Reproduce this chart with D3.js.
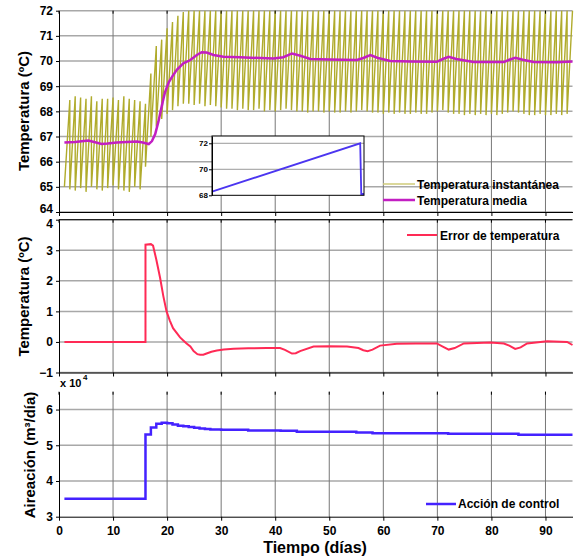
<!DOCTYPE html>
<html>
<head>
<meta charset="utf-8">
<script src="https://d3js.org/d3.v7.min.js"></script>
<style>
  body { margin: 0; background: #fff; }
  text { font-family: "Liberation Sans", Arial, sans-serif; font-weight: bold; }
</style>
</head>
<body>
<div id="chart"></div>
<script>
// ---- datos ----
// temperatura instantanea: valle al inicio de cada dia (dia 1..94) y pico al final (dia 2..95)
var tempValle = [65.0, 64.9, 64.85, 64.95, 64.8, 65.0, 64.9, 64.85, 64.95, 65.05, 64.9, 64.85, 64.8, 65.0, 64.9,
  65.8, 67.0, 67.4, 67.7, 67.9, 68.05, 68.2,
  68.3, 68.3, 68.25, 68.3, 68.2, 68.25, 68.2, 68.15,
  68.1, 68.1, 68.05, 68.1, 68.05, 68.05, 68.1, 68.0, 68.05, 68.0, 68.05, 68.1, 68.05, 68.0, 68.0,
  67.95, 68.0, 68.0, 67.95, 68.0, 67.95, 67.95, 68.0, 67.95, 68.0, 68.05, 68.0, 67.95, 67.95, 67.9,
  67.95, 67.9, 67.95, 67.9, 67.9, 67.95, 67.9, 67.9, 67.95, 68.0, 68.05, 67.95, 67.9, 67.9, 67.85,
  67.9, 67.85, 67.9, 67.85, 67.9, 67.85, 67.9, 67.95, 68.0, 67.95, 67.9, 67.85, 67.85, 67.9, 67.85, 67.85, 67.9, 67.85, 67.9];
var tempPico = [68.45, 68.6, 68.55, 68.5, 68.6, 68.4, 68.5, 68.5, 68.55, 68.45, 68.6, 68.5, 68.45, 68.4, 68.3,
  69.5, 70.6, 70.85, 71.3, 71.55, 71.8, 71.95,
  72, 72, 72, 72, 72, 72, 72, 72, 72, 72, 72, 72, 72, 72, 72, 72, 72, 72, 72, 72, 72, 72,
  72, 72, 72, 72, 72, 72, 72, 72, 72, 72, 72, 72, 72, 72, 72, 72, 72, 72, 72, 72, 72, 72,
  72, 72, 72, 72, 72, 72, 72, 72, 72, 72, 72, 72, 72, 72, 72, 72, 72, 72, 72, 72, 72, 72,
  72, 72, 72, 72, 72, 72, 72, 72, 72, 72, 72, 72, 72, 72, 72, 72];

// temperatura media
var mediaDias = [1, 3, 5.4, 6.5, 7.9, 9, 10.7, 12.5, 14.4, 15.5, 16.6, 17.2, 17.8, 18.4, 19.0, 19.6, 20.3, 21.0, 21.8, 23.0, 24.3, 25.5, 26.4, 27.3, 28.6, 30.4, 33.5, 35.4,
  39.7, 41.5, 43.1, 44.5, 46.5, 50, 55.1, 56.3, 57.6, 59, 61.3, 65, 69.9, 71, 72.1, 73.5, 76.7, 82.3, 83.3, 84.4, 85.8, 87.8, 92, 95];
var mediaValor = [66.76, 66.78, 66.84, 66.78, 66.7, 66.72, 66.76, 66.78, 66.8, 66.76, 66.7, 66.82, 67.1, 67.6, 68.2, 68.75, 69.15, 69.4, 69.65, 69.91, 70.04, 70.24, 70.35, 70.34, 70.24, 70.17, 70.15, 70.13,
  70.1, 70.15, 70.3, 70.22, 70.08, 70.06, 70.04, 70.12, 70.24, 70.12, 70.0, 69.98, 69.97, 70.08, 70.17, 70.08, 69.96, 69.96, 70.05, 70.13, 70.05, 69.96, 69.95, 69.98];

// error de temperatura
var errorDias = [1, 16, 16, 17, 17.4, 18, 18.7, 19.3, 19.9, 20.5, 21.1, 22.4, 23, 23.6, 24.3, 24.9, 25.6, 26.1, 26.7, 27.3, 28.2, 29.2, 30.5, 32.3, 35, 38.4,
  40.9, 41.8, 43.1, 43.8, 44.6, 47.1, 50, 53.3, 55.4, 56.3, 57.1, 58, 59.4, 62.5, 66, 69.9, 71, 72.1, 73.2, 74.9, 79.8, 82.3, 83.3, 84.4, 85.4, 86.6, 90.3, 94, 95];
var errorValor = [0, 0, 3.18, 3.2, 3.15, 2.7, 2.1, 1.5, 1.0, 0.7, 0.45, 0.15, 0.05, -0.05, -0.15, -0.3, -0.4, -0.42, -0.42, -0.38, -0.32, -0.28, -0.25, -0.22, -0.21, -0.2,
  -0.2, -0.26, -0.38, -0.37, -0.3, -0.15, -0.14, -0.15, -0.2, -0.27, -0.3, -0.25, -0.12, -0.06, -0.05, -0.05, -0.15, -0.25, -0.2, -0.05, -0.02, -0.05, -0.12, -0.23, -0.18, -0.05, 0.02, 0.0, -0.1];

// accion de control (x 10^4 m3/dia), escalonada
var controlDias = [1, 16, 17, 18, 19, 20, 21, 22, 23, 24, 25, 26, 27, 28, 30, 35, 41, 44, 55, 58, 72, 85, 95];
var controlValor = [3.5, 5.3, 5.5, 5.6, 5.63, 5.62, 5.58, 5.55, 5.53, 5.51, 5.49, 5.47, 5.455, 5.44, 5.435, 5.415, 5.405, 5.38, 5.36, 5.34, 5.32, 5.295, 5.295];

// recuadro: un ciclo de la temperatura instantanea
var insetT = [0, 0.975, 0.982, 1.0];
var insetV = [68.28, 72.0, 68.1, 68.1];

var xTicks = [0, 10, 20, 30, 40, 50, 60, 70, 80, 90];
var topTicks = [64, 65, 66, 67, 68, 69, 70, 71, 72];
var midTicks = [-1, 0, 1, 2, 3, 4];
var botTicks = [3, 4, 5, 6];

var width = 574, height = 557;
var fontFam = "Liberation Sans, Arial, sans-serif";
var svg = d3.select("#chart").append("svg")
  .attr("width", width).attr("height", height);

var x = d3.scaleLinear().domain([0, 95]).range([59, 572.5]);
var yTop = d3.scaleLinear().domain([64, 72]).range([212, 10.7]);
var yMid = d3.scaleLinear().domain([-1, 4]).range([372.5, 219.7]);
var yBot = d3.scaleLinear().domain([3, 6.5]).range([516.7, 391.7]);

function grid(y, ticks, y0, y1) {
  var g = svg.append("g");
  g.selectAll(".h").data(ticks).enter().append("line")
    .attr("x1", x(0)).attr("x2", x(95))
    .attr("y1", function(d) { return y(d); }).attr("y2", function(d) { return y(d); })
    .attr("stroke", "#a8a8a8").attr("stroke-width", 1.5);
  g.selectAll(".v").data(xTicks.slice(1)).enter().append("line")
    .attr("x1", function(d) { return x(d); }).attr("x2", function(d) { return x(d); })
    .attr("y1", y0).attr("y2", y1)
    .attr("stroke", "#777").attr("stroke-width", 1);
}

function axes(y, ticks, showX, topLine) {
  var r = y.range();
  var ya = svg.append("g").attr("transform", "translate(" + x(0) + ",0)")
    .call(d3.axisLeft(y).tickValues(ticks).tickSize(3).tickPadding(3).tickSizeOuter(0)
      .tickFormat(d3.format("d")));
  ya.select(".domain").attr("stroke", "#000");
  ya.selectAll("text").attr("font-size", 12).attr("font-family", fontFam).attr("font-weight", "bold");
  var xa = svg.append("g").attr("transform", "translate(0," + r[0] + ")")
    .call(d3.axisBottom(x).tickValues(xTicks).tickSize(4).tickPadding(6).tickSizeOuter(0)
      .tickFormat(showX ? d3.format("d") : ""));
  xa.selectAll("text").attr("font-size", 12).attr("font-family", fontFam).attr("font-weight", "bold");
  // marcas superiores
  svg.append("g").selectAll("line").data(xTicks).enter().append("line")
    .attr("x1", function(d) { return x(d); }).attr("x2", function(d) { return x(d); })
    .attr("y1", r[1]).attr("y2", r[1] + 3).attr("stroke", "#000");
  if (topLine) {
    svg.append("line").attr("x1", x(0)).attr("x2", x(95))
      .attr("y1", r[1]).attr("y2", r[1]).attr("stroke", "#000");
  }
  return ya;
}

// ---- panel superior ----
grid(yTop, topTicks, yTop(72), yTop(64));

var saw = [];
for (var k = 0; k < tempValle.length; k++) {
  saw.push([k + 1, tempValle[k]]);
  saw.push([k + 2, tempPico[k]]);
}
svg.append("path")
  .attr("d", d3.line().x(function(d) { return x(d[0]); }).y(function(d) { return yTop(d[1]); })(saw))
  .attr("fill", "none").attr("stroke", "#b0ab2c").attr("stroke-width", 1.4);

svg.append("path")
  .attr("d", d3.line().x(function(d, i) { return x(mediaDias[i]); }).y(function(d) { return yTop(d); })(mediaValor))
  .attr("fill", "none").attr("stroke", "#c21fc2").attr("stroke-width", 2.5);

var yaTop = axes(yTop, topTicks, false, false);
yaTop.selectAll(".tick text").filter(function(d) { return d === 64; }).attr("dy", "0.02em");

// recuadro
var ix = d3.scaleLinear().domain([0, 1]).range([212, 364]);
var iy = d3.scaleLinear().domain([68, 72.56]).range([195.3, 136]);
svg.append("rect").attr("x", 212).attr("y", 136).attr("width", 152).attr("height", 59.3)
  .attr("fill", "#fff");
svg.append("g").selectAll("line").data([70, 72]).enter().append("line")
  .attr("x1", 212).attr("x2", 364)
  .attr("y1", function(d) { return iy(d); }).attr("y2", function(d) { return iy(d); })
  .attr("stroke", "#999").attr("stroke-width", 1);
svg.append("path")
  .attr("d", d3.line().x(function(d, i) { return ix(insetT[i]); }).y(function(d) { return iy(d); })(insetV))
  .attr("fill", "none").attr("stroke", "#4b35f0").attr("stroke-width", 1.8);
var ia = svg.append("g").attr("transform", "translate(212,0)")
  .call(d3.axisLeft(iy).tickValues([68, 70, 72]).tickSize(3).tickPadding(1).tickSizeOuter(0)
    .tickFormat(d3.format("d")));
ia.selectAll("text").attr("font-size", 8).attr("font-family", fontFam).attr("font-weight", "bold");
svg.append("rect").attr("x", 212).attr("y", 136).attr("width", 152).attr("height", 59.3)
  .attr("fill", "none").attr("stroke", "#000").attr("stroke-width", 1);

// leyenda superior
svg.append("line").attr("x1", 383).attr("x2", 415).attr("y1", 184).attr("y2", 184)
  .attr("stroke", "#cfcb7a").attr("stroke-width", 1.5);
svg.append("text").attr("x", 417).attr("y", 188.5).attr("font-size", 12).text("Temperatura instantánea");
svg.append("line").attr("x1", 383).attr("x2", 415).attr("y1", 200).attr("y2", 200)
  .attr("stroke", "#c21fc2").attr("stroke-width", 2.5);
svg.append("text").attr("x", 417).attr("y", 204.5).attr("font-size", 12).text("Temperatura media");

// ---- panel central ----
grid(yMid, midTicks, yMid(4), yMid(-1));
svg.append("path")
  .attr("d", d3.line().x(function(d, i) { return x(errorDias[i]); }).y(function(d) { return yMid(d); })(errorValor))
  .attr("fill", "none").attr("stroke", "#ff2a55").attr("stroke-width", 2);
var yaMid = axes(yMid, midTicks, false, true);
yaMid.selectAll(".tick text").filter(function(d) { return d === 4; }).attr("dy", "0.62em");

svg.append("line").attr("x1", 407).attr("x2", 437).attr("y1", 235).attr("y2", 235)
  .attr("stroke", "#ff2a55").attr("stroke-width", 2);
svg.append("text").attr("x", 440).attr("y", 239.5).attr("font-size", 12).text("Error de temperatura");

// ---- panel inferior ----
grid(yBot, [4, 5, 6], yBot(6.5), yBot(3));
svg.append("path")
  .attr("d", d3.line().curve(d3.curveStepAfter)
    .x(function(d, i) { return x(controlDias[i]); }).y(function(d) { return yBot(d); })(controlValor))
  .attr("fill", "none").attr("stroke", "#4422ff").attr("stroke-width", 2.5);
axes(yBot, botTicks, true, false);

svg.append("line").attr("x1", 426).attr("x2", 456).attr("y1", 504).attr("y2", 504)
  .attr("stroke", "#4422ff").attr("stroke-width", 2.5);
svg.append("text").attr("x", 458).attr("y", 508.3).attr("font-size", 12).text("Acción de control");

svg.append("text").attr("x", 60).attr("y", 386.5).attr("font-size", 11).text("x 10");
svg.append("text").attr("x", 83).attr("y", 380).attr("font-size", 8).text("4");

// ---- titulos de ejes ----
svg.append("text").attr("transform", "translate(29,111) rotate(-90)")
  .attr("text-anchor", "middle").attr("font-size", 15).text("Temperatura (ºC)");
svg.append("text").attr("transform", "translate(29,296.5) rotate(-90)")
  .attr("text-anchor", "middle").attr("font-size", 15).text("Temperatura (ºC)");
svg.append("text").attr("transform", "translate(35,455) rotate(-90)")
  .attr("text-anchor", "middle").attr("font-size", 15).text("Aireación (m³/día)");
svg.append("text").attr("x", 315).attr("y", 553)
  .attr("text-anchor", "middle").attr("font-size", 16).text("Tiempo (días)");
</script>
</body>
</html>
